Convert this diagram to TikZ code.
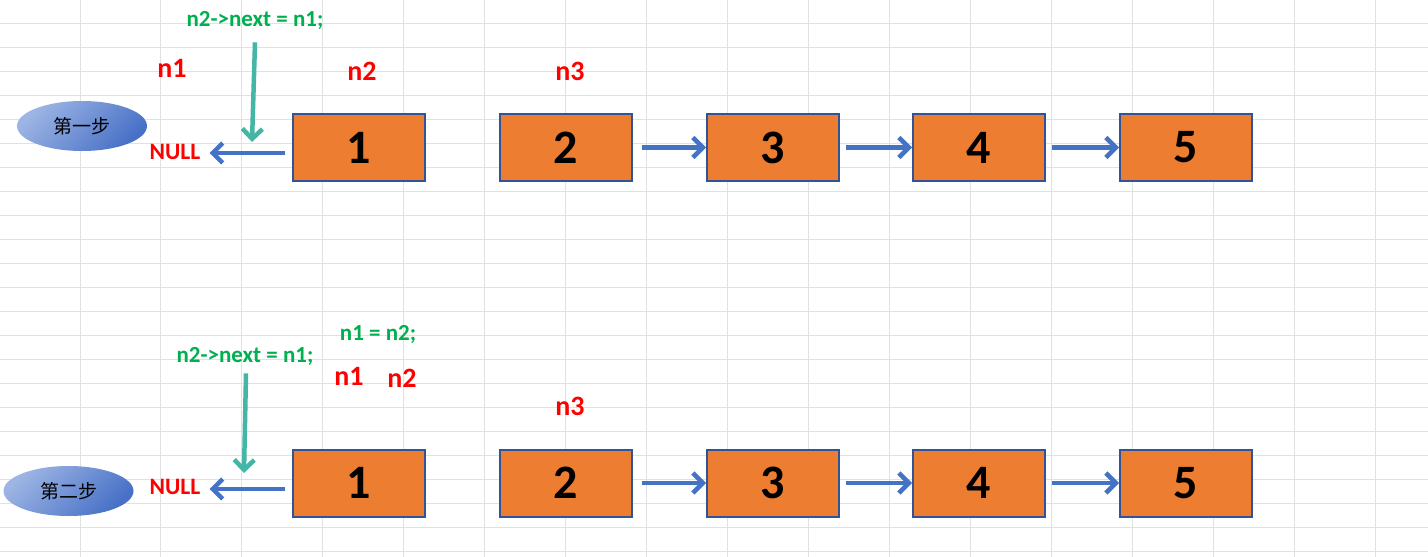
\documentclass[tikz,border=0pt]{standalone}
\usepackage{fontspec}
\setmainfont{Carlito}
\newfontfamily\cjk{Noto Sans CJK SC}
\usetikzlibrary{arrows.meta,shapes.geometric}
\definecolor{gridc}{HTML}{E1E1E1}
\definecolor{boxfill}{HTML}{ED7D31}
\definecolor{boxline}{HTML}{2F5597}
\definecolor{arrc}{HTML}{4472C4}
\definecolor{redc}{HTML}{FF0000}
\definecolor{greenc}{HTML}{00B050}
\definecolor{tealc}{HTML}{45B5A5}
\definecolor{ellA}{HTML}{9DB5E4}
\definecolor{ellB}{HTML}{4770C6}
\begin{document}
\begin{tikzpicture}[x=1pt,y=-1pt,
  gridline/.style={draw=gridc,line width=1pt},
  listbox/.style={draw=boxline,fill=boxfill,line width=2pt,minimum width=132pt,minimum height=67pt,inner sep=0pt,font=\fontsize{48}{48}\selectfont\bfseries},
  arr/.style={draw=arrc,line width=4.5pt,-{Straight Barb[length=10pt,width=20pt]}},
  garr/.style={draw=tealc,line width=4.5pt,-{Straight Barb[length=10pt,width=20pt]}},
  redlab/.style={text=redc,inner sep=0pt,font=\fontsize{28}{28}\selectfont\bfseries},
  nulllab/.style={text=redc,inner sep=0pt,font=\fontsize{23.5}{23.5}\selectfont\bfseries},
  greenlab/.style={text=greenc,inner sep=0pt,font=\fontsize{23}{23}\selectfont\bfseries},
  stepell/.style={ellipse,minimum width=130pt,minimum height=50pt,inner sep=0pt,left color=ellA,right color=ellB,shading angle=45,font=\cjk\fontsize{19}{19}\selectfont}
]
\useasboundingbox (0,0) rectangle (1428,557);
\fill[white] (0,0) rectangle (1428,557);
% grid
\foreach \k in {0,...,16} \draw[gridline] ({80+80.95*\k},0) -- ({80+80.95*\k},557);
\foreach \k in {0,...,22} \draw[gridline] (0,{23.3+24*\k}) -- (1428,{23.3+24*\k});

% ---------- row 1 ----------
\node[stepell] (e1) at (82,126) {第一步};
\node[listbox] (a1) at (359,147.5) {1};
\node[listbox] (a2) at (566,147.5) {2};
\node[listbox] (a3) at (773,147.5) {3};
\node[listbox] (a4) at (979,147.5) {4};
\node[listbox] (a5) at (1186,147.5) {5};
\node[nulllab] (null1) at (175,152) {NULL};
\node[redlab] (n1a) at (172,68) {n1};
\node[redlab] (n2a) at (362,71) {n2};
\node[redlab] (n3a) at (570,71) {n3};
\node[greenlab] (g1) at (255,21) {n2->next = n1;};
\draw[arr] ([xshift=9pt]a2.east) -- (a3.west);
\draw[arr] ([xshift=6pt]a3.east) -- (a4.west);
\draw[arr] ([xshift=6pt]a4.east) -- (a5.west);
\coordinate (s1) at ([xshift=-7pt,yshift=-5.5pt]a1.west);
\path (s1 -| null1.east) coordinate (p1);
\draw[arr] (s1) -- ([xshift=9pt]p1);
\coordinate (t1) at (252,142);
\draw[garr] ([xshift=0pt,yshift=-12pt]g1.south) -- (t1);

% ---------- row 2 ----------
\node[stepell] (e2) at (68.5,491) {第二步};
\node[listbox] (b1) at (359,483) {1};
\node[listbox] (b2) at (566,483) {2};
\node[listbox] (b3) at (773,483) {3};
\node[listbox] (b4) at (979,483) {4};
\node[listbox] (b5) at (1186,483) {5};
\node[nulllab] (null2) at (175,487) {NULL};
\node[redlab] (n1b) at (349,376) {n1};
\node[redlab] (n2b) at (402,378) {n2};
\node[redlab] (n3b) at (570,406) {n3};
\node[greenlab] (g2) at (245,357) {n2->next = n1;};
\node[greenlab] (g3) at (378,335) {n1 = n2;};
\draw[arr] ([xshift=9pt]b2.east) -- (b3.west);
\draw[arr] ([xshift=6pt]b3.east) -- (b4.west);
\draw[arr] ([xshift=6pt]b4.east) -- (b5.west);
\coordinate (s2) at ([xshift=-7pt,yshift=-6pt]b1.west);
\path (s2 -| null2.east) coordinate (p2);
\draw[arr] (s2) -- ([xshift=9pt]p2);
\coordinate (t2) at (244,473);
\draw[garr] ([xshift=1pt,yshift=-7pt]g2.south) -- (t2);
\end{tikzpicture}
\end{document}
